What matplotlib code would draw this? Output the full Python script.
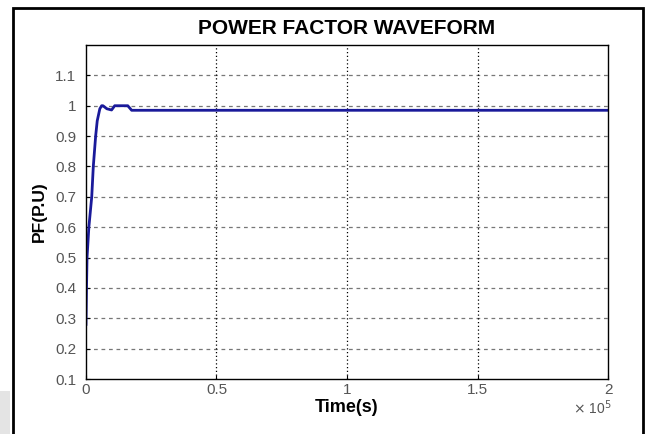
import matplotlib.pyplot as plt
from matplotlib.patches import Rectangle

# power factor vs time (time in seconds, axis shown as x 10^5)
time = [0, 200, 400, 1100, 2200, 2800, 3700, 4300, 5300, 6000, 6500,
        8000, 9800, 11000, 16000, 17500, 200000]
pf = [0.28, 0.40, 0.50, 0.60, 0.70, 0.80, 0.90, 0.95, 0.99, 1.00, 1.00,
      0.99, 0.986, 1.00, 1.00, 0.985, 0.985]

xticks = [0, 50000, 100000, 150000, 200000]
xtick_labels = ['0', '0.5', '1', '1.5', '2']
yticks = [0.1, 0.2, 0.3, 0.4, 0.5, 0.6, 0.7, 0.8, 0.9, 1.0, 1.1]
ytick_labels = ['0.1', '0.2', '0.3', '0.4', '0.5', '0.6', '0.7', '0.8', '0.9', '1', '1.1']

plt.rcParams['font.family'] = ['Liberation Sans', 'DejaVu Sans']

fig = plt.figure(figsize=(6.48, 4.34), dpi=100)
ax = fig.add_axes([0.1327, 0.1267, 0.8056, 0.7696])

# outer page frame
fig.patches.append(Rectangle((0.02, -0.05), 0.972, 1.032, transform=fig.transFigure,
                             fill=False, edgecolor='black', linewidth=2))
fig.patches.append(Rectangle((0.0, 0.0), 0.016, 0.1, transform=fig.transFigure,
                             facecolor='#e4e4e4', edgecolor='none'))

ax.plot(time, pf, color='#1a1a9a', linewidth=2)

ax.set_xlim(0, 200000)
ax.set_ylim(0.1, 1.2)
ax.set_xticks(xticks)
ax.set_xticklabels(xtick_labels)
ax.set_yticks(yticks)
ax.set_yticklabels(ytick_labels)
ax.tick_params(direction='in', labelsize=11, labelcolor='#555555', length=3)
ax.tick_params(axis='x', pad=3)
ax.tick_params(axis='y', pad=7)

for y in yticks[1:]:
    ax.axhline(y, color='#777777', linestyle=(0, (3, 3)), linewidth=0.9, zorder=0)
for x in xticks[1:-1]:
    ax.axvline(x, color='black', linestyle=(0, (1, 2)), linewidth=0.9, zorder=0)

for s in ax.spines.values():
    s.set_linewidth(1.0)

ax.set_title('POWER FACTOR WAVEFORM', fontsize=15, fontweight='heavy', pad=8)
ax.set_xlabel('Time(s)', fontsize=13, fontweight='heavy', labelpad=1)
ax.set_ylabel('PF(P.U)', fontsize=12.5, fontweight='heavy', labelpad=6)
fig.text(0.885, 0.045, r'$\times$ 10$^5$', fontsize=10, color='#555555')

fig.savefig('out.png', dpi=100)
